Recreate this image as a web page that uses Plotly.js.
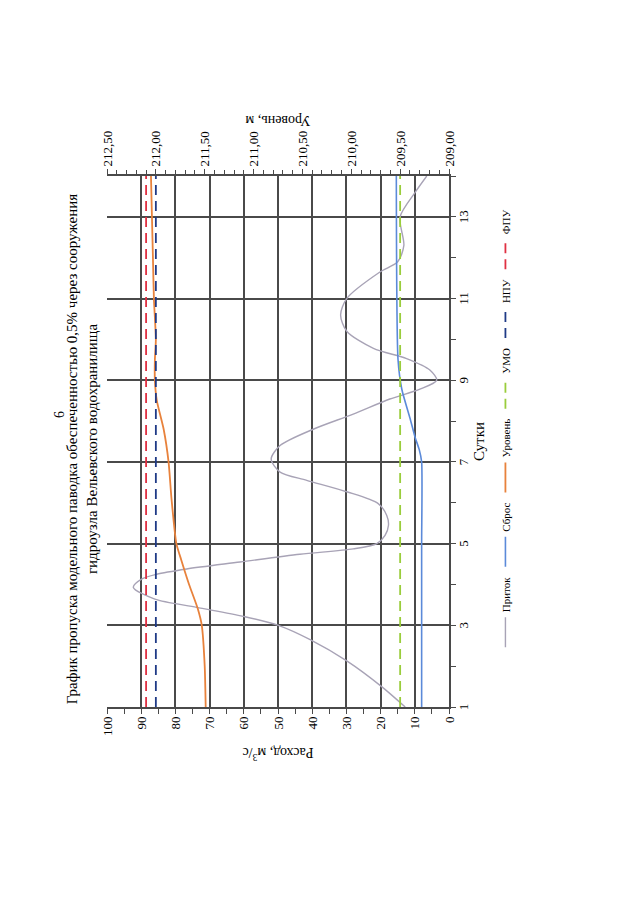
<!DOCTYPE html>
<html><head><meta charset="utf-8">
<script src="https://cdn.plot.ly/plotly-3.0.1.min.js"></script>
<style>
html,body{margin:0;padding:0;background:#fff;width:640px;height:898px;overflow:hidden;}
#chart{position:absolute;left:0;top:0;width:898px;height:640px;transform-origin:0 0;transform:translateY(898px) rotate(-90deg);}
</style></head><body><div id="chart"></div>
<script>
// Приток (inflow), m3/s
const inflowDays = [1.0,1.5,2.13,2.65,3.0,3.22,3.44,3.64,3.93,4.13,4.25,4.38,4.55,4.74,4.87,5.0,5.2,5.45,5.69,5.98,6.27,6.55,6.75,7.07,7.4,7.8,8.17,8.54,8.78,9.0,9.25,9.53,9.78,10.2,10.6,11.0,11.65,11.9,12.3,13.0,13.6,14.0];
const inflow     = [12.8,19.7,29.9,40.6,49.9,60.2,73.8,86.0,92.3,89.9,85.5,76.7,61.1,43.6,28.0,21.1,18.7,17.7,18.2,20.7,29.9,41.6,49.4,52.0,49.4,39.7,28.0,17.3,8.5,3.6,5.6,12.4,22.1,29.9,31.7,29.9,20.2,15.0,13.2,14.3,9.9,6.5];
// Сброс (release), m3/s
const releaseDays = [1,3,5,7.0,7.3,7.6,8.07,8.78,9.5,14];
const release     = [8.0,8.0,8.0,8.0,8.7,9.9,11.4,13.8,14.9,15.4];
// Уровень (reservoir level), m
const levelDays = [1,2,3,3.4,4.0,4.6,5.0,6.1,7.0,7.8,8.5,9.0,9.5,10.0,11,12,13,14];
const level     = [211.49,211.50,211.53,211.57,211.66,211.74,211.79,211.84,211.87,211.92,211.99,212.01,212.01,212.00,212.02,212.03,212.04,212.05];
// Reference levels, m
const umo = 209.50, npu = 212.00, fpu = 212.10;
const dayRange = [1, 14];
const flowRange = [0, 100];
const levelRange = [209, 212.5];

const F = 'Liberation Serif, Times New Roman, serif';
const dash = '10px,6px';
const traces = [
  {name:'Приток', x:inflowDays, y:inflow, mode:'lines', line:{color:'#a8a3b6', width:1.4, shape:'spline', smoothing:0.8}},
  {name:'Сброс', x:releaseDays, y:release, mode:'lines', line:{color:'#5b8ad9', width:1.6, shape:'spline', smoothing:0.6}},
  {name:'Уровень', x:levelDays, y:level, yaxis:'y2', mode:'lines', line:{color:'#e8823c', width:1.8, shape:'spline', smoothing:0.6}},
  {name:'УМО', x:dayRange, y:[umo,umo], yaxis:'y2', mode:'lines', line:{color:'#9acd3c', width:1.8, dash:dash}},
  {name:'НПУ', x:dayRange, y:[npu,npu], yaxis:'y2', mode:'lines', line:{color:'#1f3a86', width:1.8, dash:dash}},
  {name:'ФПУ', x:dayRange, y:[fpu,fpu], yaxis:'y2', mode:'lines', line:{color:'#e03042', width:1.8, dash:dash}}
];
const gc = '#4a4a4a';
const layout = {
  width:898, height:640,
  margin:{l:191, r:176, t:107, b:191},
  paper_bgcolor:'#fff', plot_bgcolor:'#fff',
  separators:', ',
  font:{family:F, color:'#000', size:12},
  showlegend:true,
  title:{text:'График пропуска модельного паводка обеспеченностью 0,5% через сооружения<br>гидроузла Вельевского водохранилища',
    font:{family:F, size:15, color:'#000'}, xref:'container', x:0.5, xanchor:'center', yref:'container', y:1-77/640, yanchor:'top'},
  xaxis:{range:dayRange, tick0:1, dtick:2, showgrid:true, gridcolor:gc, gridwidth:2, zeroline:false,
    showline:true, linecolor:gc, linewidth:2, ticks:'outside', ticklen:5, tickcolor:gc, ticklabelstandoff:-4,
    minor:{dtick:1, ticks:'outside', ticklen:5, tickcolor:gc, showgrid:false},
    tickfont:{family:F, size:13, color:'#000'},
    title:{text:'Сутки', font:{family:F, size:15, color:'#000'}, standoff:2}},
  yaxis:{range:flowRange, tick0:0, dtick:10, showgrid:true, gridcolor:gc, gridwidth:2, zeroline:false,
    showline:true, linecolor:gc, linewidth:2, ticks:'outside', ticklen:5, tickcolor:gc,
    minor:{dtick:5, ticks:'outside', ticklen:5, tickcolor:gc, showgrid:false},
    tickfont:{family:F, size:13, color:'#000'},
    title:{text:'Расход, м<sup>3</sup>/с', font:{family:F, size:14, color:'#000'}, standoff:8}},
  yaxis2:{range:levelRange, overlaying:'y', side:'right', tick0:209, dtick:0.5, tickformat:'.2f', showgrid:false, zeroline:false,
    showline:true, linecolor:gc, linewidth:2, ticks:'outside', ticklen:5, tickcolor:gc,
    minor:{dtick:0.1, ticks:'outside', ticklen:4, tickcolor:gc, showgrid:false},
    tickfont:{family:F, size:13, color:'#000'},
    title:{text:'Уровень, м', font:{family:F, size:14, color:'#000'}, standoff:6}},
  legend:{orientation:'h', x:0.525, xanchor:'center', y:-0.165, yanchor:'middle', font:{family:F, size:11, color:'#000'},
    bgcolor:'rgba(0,0,0,0)', itemwidth:30, traceorder:'normal'},
  annotations:[{text:'6', xref:'paper', yref:'paper', x:(483-191)/531, y:(449-59)/342, xanchor:'center', yanchor:'middle', showarrow:false, font:{family:F, size:14, color:'#000'}}]
};
Plotly.newPlot('chart', traces, layout, {displayModeBar:false, staticPlot:true});
</script></body></html>
